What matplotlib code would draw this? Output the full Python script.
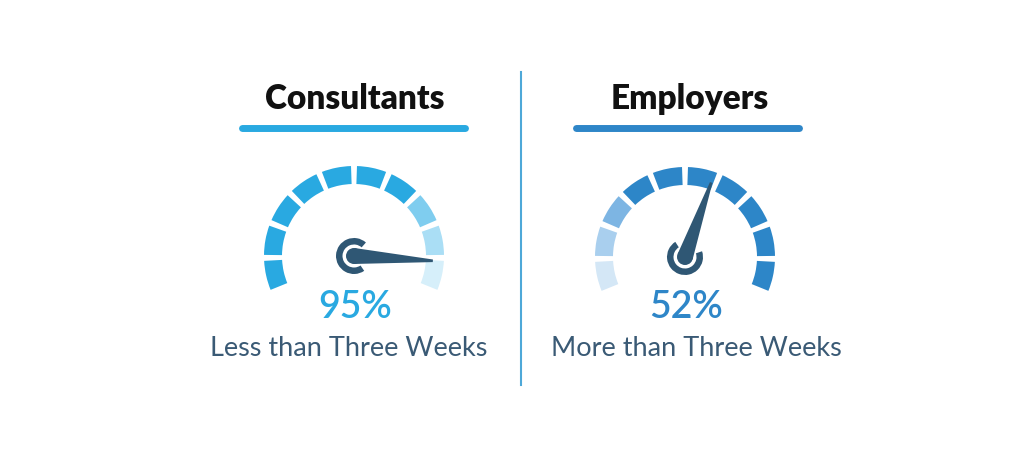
import numpy as np
import matplotlib
matplotlib.use("Agg")
import matplotlib.pyplot as plt
from matplotlib.patches import Wedge, Circle, Polygon

# chart data
groups = ["Consultants", "Employers"]
percent_labels = ["95%", "52%"]
captions = ["Less than Three Weeks", "More than Three Weeks"]
needle_pos = [0.91, 0.585]   # where the needle sits along the dial (0 = left end, 1 = right end)
n_segments = 10

W, H = 1024, 465

# styling
centers = [(354, 256), (685, 257)]
accent = ["#29a9e1", "#2e86c8"]
seg_colors = [
    ["#29a9e1"] * 7 + ["#7fcdef", "#aadef5", "#d6effa"],
    ["#d4e7f6", "#a9cfee", "#7db5e3"] + ["#2d86c8"] * 7,
]
needle_col = "#2f5774"
caption_col = "#3a5a75"
start_ang, end_ang = 204, -24
r_out, r_in = 90, 72
gap = 3.8

plt.rcParams["font.family"] = ["Lato", "DejaVu Sans"]

fig = plt.figure(figsize=(W / 100, H / 100), dpi=100, facecolor="white")
ax = fig.add_axes([0, 0, 1, 1])
ax.set_xlim(0, W)
ax.set_ylim(0, H)
ax.set_aspect("equal")
ax.axis("off")


def fy(y):
    # picture rows run top-down
    return H - y


for i, name in enumerate(groups):
    cx, cy = centers[i]
    cy = fy(cy)
    step = (start_ang - end_ang) / n_segments
    for k in range(n_segments):
        t2 = start_ang - k * step - gap / 2
        t1 = start_ang - (k + 1) * step + gap / 2
        ax.add_patch(Wedge((cx, cy), r_out, t1, t2, width=r_out - r_in,
                           facecolor=seg_colors[i][k], edgecolor="none"))

    # needle
    a = np.radians(start_ang - needle_pos[i] * (start_ang - end_ang))
    d = np.array([np.cos(a), np.sin(a)])
    p = np.array([-d[1], d[0]])
    c = np.array([cx, cy])
    L, hw = 79, 8
    ax.add_patch(Polygon([c + p * hw, c + d * L + p * 1.3, c + d * L - p * 1.3, c - p * hw],
                         closed=True, facecolor=needle_col, edgecolor="none"))
    ax.add_patch(Circle((cx, cy), hw, facecolor=needle_col, edgecolor="none"))
    adeg = np.degrees(a)
    ax.add_patch(Wedge((cx, cy), 18, adeg + 52, adeg + 308, width=6.5,
                       facecolor=needle_col, edgecolor="none"))

    # title and underline
    tx = [355, 690][i]
    ax.text(tx, fy(109), name, ha="center", va="baseline", fontsize=24,
            fontweight="heavy", color="#111111")
    x0, x1 = [(239, 468), (573, 802)][i]
    ax.plot([x0 + 3, x1 - 3], [fy(128), fy(128)], color=accent[i], lw=5,
            solid_capstyle="round")

    # value and caption
    ax.text(cx + 1, fy(318), percent_labels[i], ha="center", va="baseline",
            fontsize=27, fontweight="semibold", color=accent[i])
    ax.text([349, 696][i], fy(356), captions[i], ha="center", va="baseline",
            fontsize=19.5, color=caption_col)

# divider
ax.plot([521, 521], [fy(72), fy(385)], color="#4ea8d8", lw=1.5)

fig.savefig("out.png", dpi=100, facecolor="white")
